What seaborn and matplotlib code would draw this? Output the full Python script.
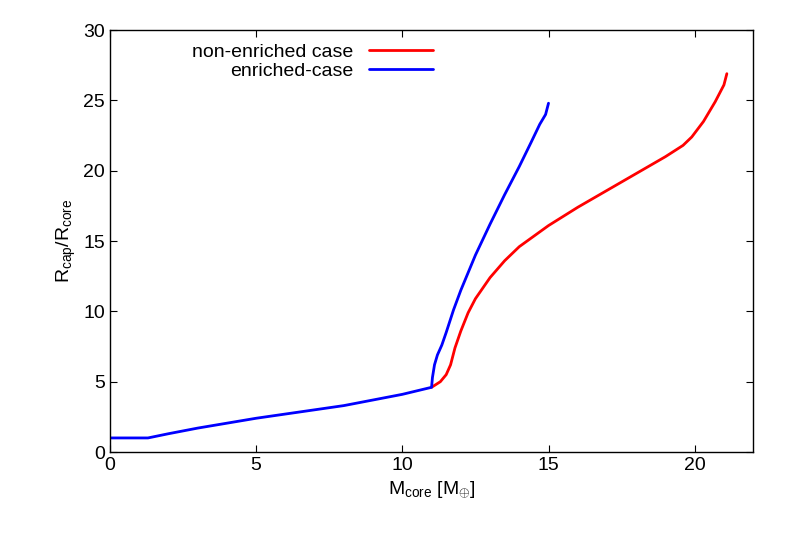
import matplotlib
matplotlib.use("Agg")
import matplotlib.pyplot as plt
import seaborn as sns
import pandas as pd

blue_x = [0, 1.3, 2, 3, 5, 8, 9, 10, 10.6, 11.0, 11.03, 11.1, 11.2, 11.35, 11.5, 11.75, 12.0, 12.5, 13.0, 13.5, 14.0, 14.4, 14.7, 14.9, 15.0]
blue_y = [1, 1, 1.3, 1.7, 2.4, 3.3, 3.7, 4.1, 4.4, 4.6, 5.3, 6.2, 6.9, 7.6, 8.5, 10.1, 11.5, 14.0, 16.2, 18.3, 20.3, 22.0, 23.3, 24.0, 24.8]
red_x = [11.0, 11.3, 11.5, 11.65, 11.8, 12.0, 12.25, 12.5, 13.0, 13.5, 14.0, 15.0, 16.0, 17.0, 18.0, 19.0, 19.6, 19.9, 20.3, 20.7, 21.0, 21.1]
red_y = [4.6, 5.0, 5.5, 6.2, 7.4, 8.6, 9.9, 10.9, 12.4, 13.6, 14.6, 16.1, 17.4, 18.6, 19.8, 21.0, 21.8, 22.4, 23.5, 24.9, 26.1, 26.9]

sns.set_style("ticks")
plt.rcParams["font.family"] = "Liberation Sans"
plt.rcParams["mathtext.fontset"] = "custom"
plt.rcParams["mathtext.rm"] = "Liberation Sans"
fig = plt.figure(figsize=(7.97, 5.57), dpi=100)
ax = fig.add_axes([0.138, 0.1885, 0.807, 0.7575])
sns.lineplot(data=pd.DataFrame({"x": red_x, "y": red_y}), x="x", y="y", ax=ax,
             color="#ff0000", lw=2, sort=False, label="non-enriched case")
sns.lineplot(data=pd.DataFrame({"x": blue_x, "y": blue_y}), x="x", y="y", ax=ax,
             color="#0000ff", lw=2, sort=False, label="enriched-case")
ax.set_xlim(0, 22)
ax.set_ylim(0, 30)
ax.set_xticks([0, 5, 10, 15, 20])
ax.set_yticks(range(0, 31, 5))
ax.tick_params(direction="in", labelsize=14, top=True, right=True, length=5,
               colors="black")
for s in ax.spines.values():
    s.set_linewidth(1)
    s.set_color("black")
ax.set_xlabel(r"M$_{\rm core}$ [M$_{\oplus}$]", fontsize=14, color="black")
ax.set_ylabel(r"R$_{\rm cap}$/R$_{\rm core}$", fontsize=14, color="black")
leg = ax.legend(loc="upper left", bbox_to_anchor=(0.1, 1.01), frameon=False, fontsize=14,
                markerfirst=False, handlelength=3.3, labelspacing=0.05)
for t in leg.get_texts():
    t.set_color("black")
fig.savefig("out.png", dpi=100)
